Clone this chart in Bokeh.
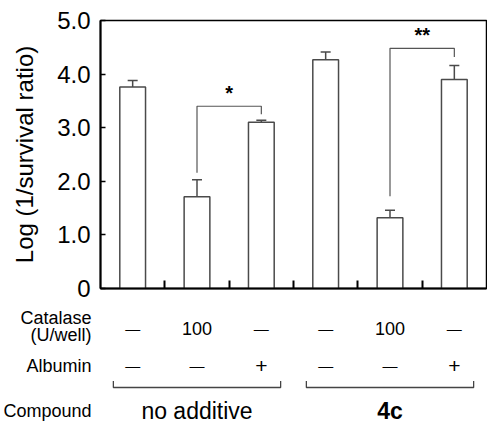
from bokeh.plotting import figure
from bokeh.layouts import column
from bokeh.models import (Range1d, FixedTicker, ColumnDataSource, Whisker, TeeHead, Label)
from bokeh.core.properties import value
from bokeh.embed import file_html
from bokeh.resources import INLINE

# ---- data ----
bars = ["nc", "cat", "alb", "4c", "4c+cat", "4c+alb"]
means = [3.76, 1.71, 3.10, 4.27, 1.32, 3.90]
errs = [0.12, 0.32, 0.04, 0.14, 0.14, 0.26]
catalase = ["—", "100", "—", "—", "100", "—"]
albumin = ["—", "—", "+", "—", "—", "+"]
groups = ["no additive", "4c"]
row_names = ["Catalase", "(U/well)", "Albumin", "Compound"]
y_ticks = [0, 1, 2, 3, 4, 5]
y_tick_labels = ["0", "1.0", "2.0", "3.0", "4.0", "5.0"]
# significance comparisons: (bar index a, bar index b, label)
sig = [(1, 2, "*"), (4, 5, "**")]
sig_levels = [(2.16, 3.40, 3.25), (1.72, 4.48, 4.32)]  # left start, top, right end

FONT = "Liberation Sans"
xs = [i + 0.5 for i in range(len(bars))]

W = 487
BL, BR, BT, BB = 99, 1, 20, 14
FRAME_H = 268
H1 = BT + FRAME_H + BB
H2 = 422 - H1

p = figure(width=W, height=H1, output_backend="svg", toolbar_location=None,
           x_range=Range1d(0, 6), y_range=Range1d(0, 5),
           min_border_left=BL, min_border_right=BR, min_border_top=BT,
           min_border_bottom=BB)
p.grid.visible = False
p.outline_line_color = "black"
p.outline_line_width = 1.5

# y axis
ya = p.yaxis[0]
ya.ticker = FixedTicker(ticks=y_ticks)
ya.major_label_overrides = {t: s for t, s in zip(y_ticks, y_tick_labels)}
ya.major_tick_in = 5
ya.major_tick_out = 0
ya.minor_tick_in = 0
ya.minor_tick_out = 0
ya.major_label_standoff = 10
ya.major_label_text_font = FONT
ya.major_label_text_font_size = "24px"
ya.major_label_text_color = "black"
ya.axis_line_width = 2
ya.major_tick_line_width = 1.5
ya.axis_label = "Log (1/survival ratio)"
ya.axis_label_text_font = FONT
ya.axis_label_text_font_size = "24px"
ya.axis_label_text_font_style = "normal"
ya.axis_label_text_color = "black"
ya.axis_label_standoff = 16

# x axis
xa = p.xaxis[0]
xa.ticker = FixedTicker(ticks=[1, 2, 3, 4, 5])
xa.major_tick_in = 8
xa.major_tick_out = 0
xa.minor_tick_in = 0
xa.minor_tick_out = 0
xa.major_label_text_alpha = 0
xa.major_label_text_font_size = "1px"
xa.major_label_standoff = 0
xa.axis_line_width = 2
xa.major_tick_line_width = 2

# bars
src = ColumnDataSource(dict(x=xs, top=means,
                            upper=[m + e for m, e in zip(means, errs)]))
p.vbar(x="x", top="top", width=0.4, source=src, fill_color="white",
       line_color="#4a4a4a", line_width=1.5)
p.add_layout(Whisker(source=src, base="x", lower="top", upper="upper",
                     lower_head=None,
                     upper_head=TeeHead(size=10, line_color="#4a4a4a", line_width=1.5),
                     line_color="#4a4a4a", line_width=1.5))

# significance brackets
bx, by = [], []
for (a, b, s), (y0, ytop, y1) in zip(sig, sig_levels):
    bx.append([xs[a], xs[a], xs[b], xs[b]])
    by.append([y0, ytop, ytop, y1])
    p.add_layout(Label(x=(xs[a] + xs[b]) / 2, y=ytop + 0.04, text=s,
                       text_font=FONT, text_font_size="20px", text_font_style="bold",
                       text_align="center", text_baseline="bottom",
                       text_color="black"))
p.multi_line(xs=bx, ys=by, line_color="#555555", line_width=1.2)

# ---- table figure below the chart (y = px below the chart frame) ----
ROW_CATL = 29
ROW_UW = 46.5
ROW_CAT = 39.5
ROW_ALB = 77
BR_TOP = 92.5
BR_BOT = 99
ROW_CMP = 122

p2 = figure(width=W, height=H2, output_backend="svg", toolbar_location=None,
            x_range=Range1d(0, 6), y_range=Range1d(BB + H2, BB),
            min_border_left=BL, min_border_right=BR, min_border_top=0,
            min_border_bottom=0, x_axis_location=None)
p2.grid.visible = False
p2.outline_line_color = None
ta = p2.yaxis[0]
row_ys = [ROW_CATL, ROW_UW, ROW_ALB, ROW_CMP]
ta.ticker = FixedTicker(ticks=row_ys)
ta.major_label_overrides = {y: n for y, n in zip(row_ys, row_names)}
ta.axis_line_color = None
ta.major_tick_line_color = None
ta.minor_tick_line_color = None
ta.major_tick_in = 0
ta.major_tick_out = 0
ta.major_label_standoff = 9
ta.major_label_text_font = FONT
ta.major_label_text_font_size = "18px"
ta.major_label_text_color = "black"

def lab(x, y, t, size="19px", style="normal"):
    p2.text(x=[x], y=[y], text=[t], text_font=value(FONT), text_font_size=size,
            text_align="center", text_baseline="middle", text_font_style=style,
            text_color="black")

for x, c, a in zip(xs, catalase, albumin):
    lab(x, ROW_CAT, c, size="15px" if c == "—" else "18px")
    lab(x, ROW_ALB, a, size="15px" if a == "—" else "21px")

gx, gy = [], []
for gi, g in enumerate(groups):
    x0 = gi * 3 + 0.2
    x1 = gi * 3 + 2.8
    gx.append([x0, x0, x1, x1])
    gy.append([BR_TOP, BR_BOT, BR_BOT, BR_TOP])
    lab(gi * 3 + 1.5, ROW_CMP, g, size="23px",
        style="bold" if g == "4c" else "normal")
p2.multi_line(xs=gx, ys=gy, line_color="#444444", line_width=1.3)

layout = column(p, p2, spacing=0)
open("out.html", "w").write(file_html(layout, INLINE))
